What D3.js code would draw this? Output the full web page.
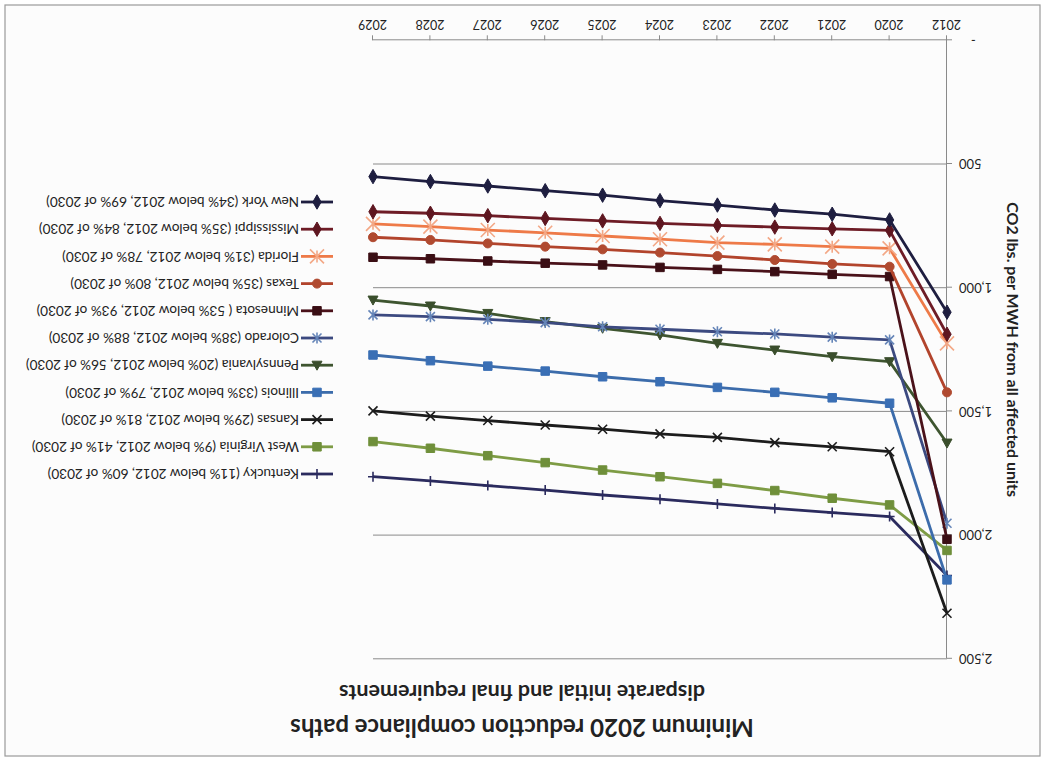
<!DOCTYPE html>
<html>
<head>
<meta charset="utf-8">
<script src="https://cdn.jsdelivr.net/npm/d3@7"></script>
<style>
  html, body { margin: 0; padding: 0; background: #ffffff; }
  svg { display: block; }
  text { font-family: Lato, "Liberation Sans", sans-serif; fill: #222; }
</style>
</head>
<body>
<svg id="chart" width="1045" height="761"></svg>
<script>
// Category labels along the horizontal axis
const years = ["2012", "2020", "2021", "2022", "2023", "2024", "2025", "2026", "2027", "2028", "2029"];

// CO2 lbs. per MWH for each state, one value per year above
const kentucky     = [2163, 1925, 1909, 1892, 1874, 1855, 1838, 1818, 1800, 1781, 1764];
const westVirginia = [2062, 1878, 1851, 1820, 1791, 1764, 1737, 1707, 1679, 1649, 1622];
const kansas       = [2316, 1663, 1643, 1626, 1605, 1591, 1572, 1555, 1537, 1519, 1498];
const illinois     = [2181, 1467, 1445, 1423, 1403, 1380, 1360, 1337, 1317, 1295, 1272];
const pennsylvania = [1628, 1299, 1279, 1252, 1225, 1191, 1164, 1137, 1104, 1074, 1050];
const colorado     = [1952, 1211, 1200, 1187, 1178, 1168, 1158, 1141, 1128, 1117, 1110];
const minnesota    = [2017,  955,  946,  935,  926,  918,  908,  901,  892,  883,  877];
const texas        = [1423,  915,  904,  888,  872,  858,  845,  834,  821,  807,  796];
const florida      = [1225,  841,  834,  825,  818,  804,  791,  778,  767,  753,  742];
const mississippi  = [1188,  768,  762,  755,  748,  740,  730,  720,  709,  699,  693];
const newYork      = [1099,  726,  703,  686,  666,  648,  626,  608,  589,  571,  551];

// Legend names, in legend order (top to bottom)
const seriesNames = [
  "Kentucky (11%  below 2012, 60% of 2030)",
  "West Virginia (9% below 2012, 41% of 2030)",
  "Kansas (29% below 2012, 81% of 2030)",
  "Illinois (33% below 2012, 79% of 2030)",
  "Pennsylvania (20% below 2012, 56% of 2030)",
  "Colorado (38% below 2012, 88% of 2030)",
  "Minnesota ( 53% below 2012, 93% of 2030)",
  "Texas (35% below 2012, 80% of 2030)",
  "Florida (31% below 2012, 78% of 2030)",
  "Mississippi (35% below 2012, 84% of 2030)",
  "New York (34% below 2012, 69% of 2030)"
];
const seriesValues = [kentucky, westVirginia, kansas, illinois, pennsylvania, colorado,
                      minnesota, texas, florida, mississippi, newYork];

// Axis ticks and titles
const yTicks = [0, 500, 1000, 1500, 2000, 2500];
const chartTitle = "Minimum 2020 reduction compliance paths";
const chartSubtitle = "disparate initial and final requirements";
const yTitle = "CO2 lbs. per MWH from all affected units";

// Styling per series
const lineColors   = ["#2b2b5e", "#7e9c45", "#1c1c1c", "#3c6cab", "#3e5530", "#3c4a80",
                      "#4a121a", "#b2442c", "#ee7a48", "#6e1c26", "#1e1e40"];
const markerColors = ["#2b2b5e", "#6f8f3a", "#1c1c1c", "#3a6fb5", "#3a4e2c", "#6585b8",
                      "#3a0e14", "#b04a30", "#f3a886", "#5e1620", "#1e1e40"];
const markerTypes  = ["plus", "square", "times", "square", "triangle", "asterisk",
                      "square", "circle", "bigTimes", "diamond", "diamond"];

const svg = d3.select("#chart");
const W = 1045, H = 761;

// Whole chart is turned half a revolution about its centre
const root = svg.append("g").attr("transform", `rotate(180 ${W / 2} ${H / 2})`);

root.append("rect")
  .attr("x", 5).attr("y", 5).attr("width", 1035).attr("height", 751)
  .attr("fill", "#fcfcfc").attr("stroke", "#9a9a9a").attr("stroke-width", 1.2);

const x = d3.scalePoint().domain(years).range([98, 672]);
const y = d3.scaleLinear().domain([0, 2500]).range([720.7, 102.2]);

// Horizontal gridlines
root.append("g").selectAll("line")
  .data(yTicks.filter(d => d > 0))
  .join("line")
  .attr("x1", x.range()[0]).attr("x2", x.range()[1])
  .attr("y1", d => y(d)).attr("y2", d => y(d))
  .attr("stroke", "#8a8a8a").attr("stroke-width", 1);

// Value axis
const yAxis = root.append("g")
  .attr("transform", `translate(${x.range()[0]},0)`)
  .call(d3.axisLeft(y).tickValues(yTicks).tickSize(5).tickSizeOuter(0).tickPadding(7)
    .tickFormat(d => d === 0 ? "-" : d3.format(",")(d)));
yAxis.select(".domain").attr("stroke", "#8a8a8a");
yAxis.selectAll(".tick line").attr("stroke", "#8a8a8a");
yAxis.selectAll(".tick text").attr("font-size", 13).attr("fill", "#333")
  .attr("dx", d => d === 0 ? -12 : 0);

// Category axis
const xAxis = root.append("g")
  .attr("transform", `translate(0,${y(0)})`)
  .call(d3.axisBottom(x).tickSize(5).tickSizeOuter(0).tickPadding(6));
xAxis.select(".domain").attr("stroke", "#8a8a8a");
xAxis.selectAll(".tick line").attr("stroke", "#8a8a8a");
xAxis.selectAll(".tick text").attr("font-size", 12.5).attr("fill", "#333");

// Marker shapes
function markerPath(type) {
  switch (type) {
    case "square":   return d3.symbol(d3.symbolSquare, 72)();
    case "diamond":  return d3.symbol(d3.symbolDiamond, 60)();
    case "circle":   return d3.symbol(d3.symbolCircle, 64)();
    case "triangle": return "M0,-5L5,4L-5,4Z";
    case "plus":     return "M0,-5V5M-5,0H5";
    case "times":    return "M-4.5,-4.5L4.5,4.5M-4.5,4.5L4.5,-4.5";
    case "bigTimes": return "M-7,-7L7,7M-7,7L7,-7M0,-6V6";
    case "asterisk": return "M-4.5,-4.5L4.5,4.5M-4.5,4.5L4.5,-4.5M0,-5.5V5.5";
  }
}
const strokeOnly = new Set(["plus", "times", "bigTimes", "asterisk"]);

const line = d3.line().x((d, i) => x(years[i])).y(d => y(d));

seriesValues.forEach((vals, s) => {
  const g = root.append("g");
  g.append("path")
    .datum(vals)
    .attr("d", line)
    .attr("fill", "none")
    .attr("stroke", lineColors[s])
    .attr("stroke-width", 2.8)
    .attr("stroke-linejoin", "round");
  g.selectAll("path.mk")
    .data(vals)
    .join("path")
    .attr("class", "mk")
    .attr("transform", (d, i) => `translate(${x(years[i])},${y(d)})`)
    .attr("d", markerPath(markerTypes[s]))
    .attr("fill", strokeOnly.has(markerTypes[s]) ? "none" : markerColors[s])
    .attr("stroke", markerColors[s])
    .attr("stroke-width", strokeOnly.has(markerTypes[s]) ? 1.6 : 1);
});

// Legend
const legend = root.append("g").attr("transform", "translate(712,287)");
const item = legend.selectAll("g").data(seriesNames).join("g")
  .attr("transform", (d, i) => `translate(0,${i * 27.2})`);
item.append("line")
  .attr("x1", 0).attr("x2", 32).attr("y1", 0).attr("y2", 0)
  .attr("stroke", (d, i) => lineColors[i]).attr("stroke-width", 2.8);
item.append("path")
  .attr("transform", "translate(16,0)")
  .attr("d", (d, i) => markerPath(markerTypes[i]))
  .attr("fill", (d, i) => strokeOnly.has(markerTypes[i]) ? "none" : markerColors[i])
  .attr("stroke", (d, i) => markerColors[i])
  .attr("stroke-width", (d, i) => strokeOnly.has(markerTypes[i]) ? 1.6 : 1);
item.append("text")
  .attr("x", 34).attr("y", 0).attr("dy", "0.35em")
  .attr("font-size", 13.6).attr("fill", "#222")
  .text(d => d);

// Titles
root.append("text")
  .attr("x", 523).attr("y", 42).attr("text-anchor", "middle")
  .attr("font-size", 24).attr("font-weight", "bold").attr("fill", "#1a1a1a")
  .text(chartTitle);
root.append("text")
  .attr("x", 523).attr("y", 76).attr("text-anchor", "middle")
  .attr("font-size", 21.5).attr("font-weight", "bold").attr("fill", "#1a1a1a")
  .text(chartSubtitle);
root.append("text")
  .attr("transform", `translate(32,${(y(0) + y(2500)) / 2}) rotate(-90)`)
  .attr("text-anchor", "middle").attr("dy", "0.35em")
  .attr("font-size", 16).attr("font-weight", "bold").attr("fill", "#1a1a1a")
  .text(yTitle);
</script>
</body>
</html>
